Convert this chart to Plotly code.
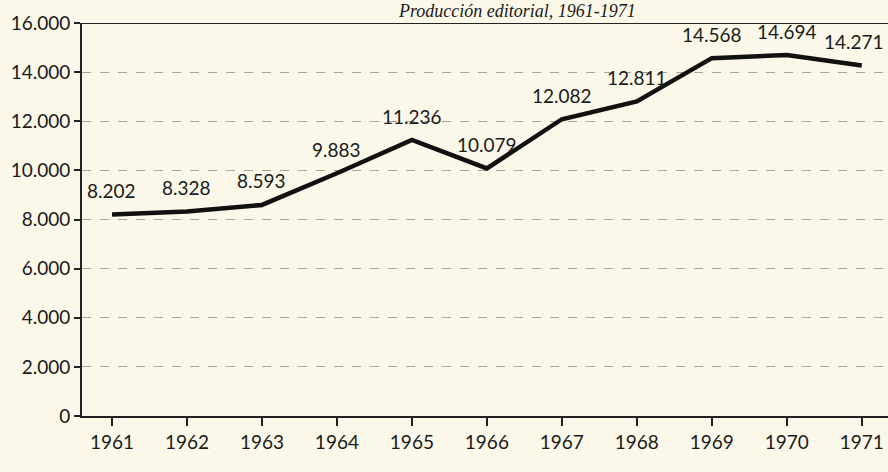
import plotly.graph_objects as go

years = [1961, 1962, 1963, 1964, 1965, 1966, 1967, 1968, 1969, 1970, 1971]
titulos = [8202, 8328, 8593, 9883, 11236, 10079, 12082, 12811, 14568, 14694, 14271]
y_ticks = [0, 2000, 4000, 6000, 8000, 10000, 12000, 14000, 16000]
title_text = "Producción editorial, 1961-1971"

bg = "#fbf8e9"
font_family = "Lato, 'Open Sans', sans-serif"

fig = go.Figure()
fig.add_trace(go.Scatter(
    x=years, y=titulos,
    mode="lines",
    line=dict(color="#111111", width=4.5),
    hoverinfo="skip",
))

for i, (yr, v) in enumerate(zip(years, titulos)):
    fig.add_annotation(
        x=yr, y=v, text=f"{v:,}".replace(",", "."),
        showarrow=False, yanchor="middle", xanchor="center",
        yshift=24, xshift=(-8 if i == len(years) - 1 else 0),
        font=dict(family=font_family, size=19, color="#1a1a1a"),
    )

# title as annotation so it stays inside the page
fig.add_annotation(
    x=0.54, y=1, xref="paper", yref="paper", xanchor="center", yanchor="top",
    yshift=23, showarrow=False, text=f"<i>{title_text}</i>",
    borderpad=0,
    font=dict(family="'Liberation Serif', serif", size=18, color="#1a1a1a"),
)

fig.add_shape(type="line", xref="paper", yref="y", x0=0, x1=1, y0=16000, y1=16000,
              line=dict(color="#222", width=1.8))

fig.update_layout(
    width=888, height=472,
    paper_bgcolor=bg, plot_bgcolor=bg,
    margin=dict(l=82, r=0, t=23, b=56, autoexpand=False),
    separators=",.",
    showlegend=False,
)
fig.update_xaxes(
    range=[1960.6, 1971.35],
    tickvals=years,
    ticks="outside", ticklen=8, tickwidth=1.5, tickcolor="#222",
    showline=True, linecolor="#222", linewidth=1.8,
    showgrid=False, zeroline=False, automargin=False,
    tickfont=dict(family=font_family, size=19, color="#1a1a1a"),
)
fig.update_yaxes(
    range=[0, 16000],
    tickvals=y_ticks,
    tickformat=",d",
    ticks="outside", ticklen=6, tickwidth=1.5, tickcolor="#222",
    showline=True, linecolor="#222", linewidth=1.8,
    showgrid=True, gridcolor="#a8a49a", griddash="dash", gridwidth=1,
    zeroline=False, automargin=False,
    tickfont=dict(family=font_family, size=19, color="#1a1a1a"),
)

fig.write_html(
    "out.html",
    config={"displayModeBar": False},
    post_script="document.body.style.margin='0';document.body.style.background='%s';" % bg,
)
